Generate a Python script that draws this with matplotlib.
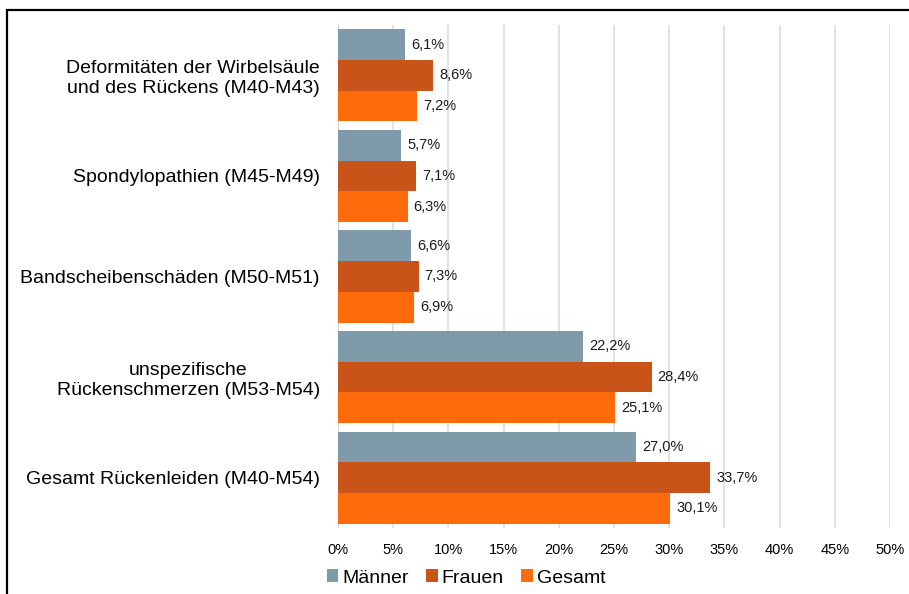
import matplotlib

matplotlib.use("Agg")
import matplotlib.pyplot as plt
import numpy as np
from matplotlib.patches import Rectangle

plt.rcParams["font.family"] = ["Liberation Sans", "DejaVu Sans"]

categories = [
    "Deformitäten der Wirbelsäule\nund des Rückens (M40-M43)",
    "Spondylopathien (M45-M49)",
    "Bandscheibenschäden (M50-M51)",
    "unspezifische\nRückenschmerzen (M53-M54)",
    "Gesamt Rückenleiden (M40-M54)",
]
maenner = [6.1, 5.7, 6.6, 22.2, 27.0]
frauen = [8.6, 7.1, 7.3, 28.4, 33.7]
gesamt = [7.2, 6.3, 6.9, 25.1, 30.1]
series_names = ["Männer", "Frauen", "Gesamt"]
colors = ["#7f9baa", "#c9541a", "#ff6a0a"]
xticks = [0, 5, 10, 15, 20, 25, 30, 35, 40, 45, 50]

fig = plt.figure(figsize=(9.09, 5.94), dpi=100)
ax = fig.add_axes([338 / 909, 1 - 528 / 594, 552 / 909, 503 / 594])

# frame around the chart (left and top visible in the original)
fig.patches.append(Rectangle((7 / 909, -0.1), 1.2, 1 - 10 / 594 + 0.1,
                             transform=fig.transFigure, fill=False,
                             edgecolor="black", linewidth=1.6))

y = np.arange(len(categories))
h = 0.305
for i, (vals, name, col) in enumerate(zip([maenner, frauen, gesamt], series_names, colors)):
    pos = y + (i - 1) * h
    ax.barh(pos, vals, height=h, color=col, label=name, zorder=3)
    for p, v in zip(pos, vals):
        ax.text(v + 0.55, p, f"{v:.1f}%".replace(".", ","), va="center", ha="left",
                fontsize=10.5, color="#1a1a1a")

ax.set_xlim(0, 50)
ax.set_ylim(len(categories) - 0.5, -0.5)
ax.set_xticks(xticks)
ax.set_xticklabels([f"{t}%" for t in xticks], fontsize=10.5)
ax.set_yticks(y)
ax.set_yticklabels(categories, fontsize=14, multialignment="center")
ax.tick_params(axis="both", length=0)
ax.tick_params(axis="y", pad=13)
ax.tick_params(axis="x", pad=11)
ax.grid(axis="x", color="#dddddd", linewidth=1.2, zorder=0)
for s in ax.spines.values():
    s.set_visible(False)
ax.axvline(0, color="#cccccc", linewidth=1.2, zorder=2)

fig.legend(*ax.get_legend_handles_labels(), loc="center",
           bbox_to_anchor=(466 / 909, 1 - 578 / 594), ncol=3, frameon=False,
           fontsize=14, handlelength=0.6, handleheight=0.6, handletextpad=0.2,
           columnspacing=0.9, borderaxespad=0, borderpad=0)

fig.savefig("out.png", dpi=100)
